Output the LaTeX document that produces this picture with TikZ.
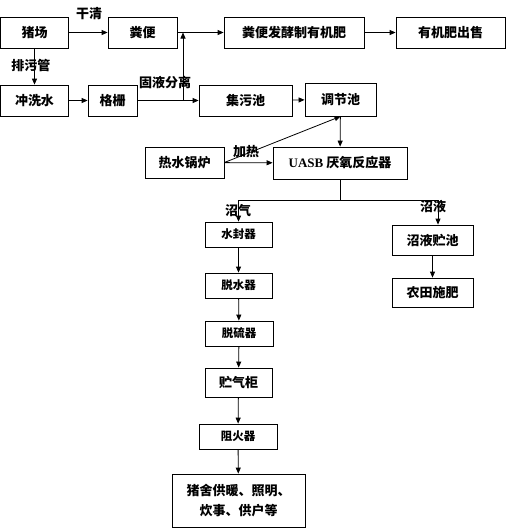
\documentclass[tikz,border=0pt]{standalone}
\usepackage{fontspec}
\setmainfont{Noto Sans CJK SC}
\newfontfamily\latinfont{Liberation Serif}
\usetikzlibrary{arrows.meta}
\begin{document}
\begin{tikzpicture}[
	x=1pt, y=-1pt,
	box/.style={ draw, line width=0.8pt, inner sep=0pt, align=center, font=\fontsize{13pt}{20pt}\selectfont\bfseries },
	boxs/.style={ box, font=\fontsize{11.5pt}{14pt}\selectfont\bfseries },
	lbl/.style={ inner sep=0pt, font=\fontsize{13pt}{14pt}\selectfont\bfseries },
	arr/.style={ draw, line width=0.8pt, -{Triangle[length=6pt,width=5pt]} },
	ln/.style={ draw, line width=0.8pt }
]
\useasboundingbox (0,0) rectangle (530,528);

\node at (34.5,32.5) (zc) [box,minimum width=68pt,minimum height=31pt] {猪场};
\node at (142.5,32.5) (fb) [box,minimum width=69pt,minimum height=31pt] {粪便};
\node at (294,32.5) (fj) [box,minimum width=140pt,minimum height=31pt] {粪便发酵制有机肥};
\node at (450.5,32.5) (cs) [box,minimum width=109pt,minimum height=31pt] {有机肥出售};

\node at (34.5,100.5) (cx) [box,minimum width=68pt,minimum height=31pt] {冲洗水};
\node at (112.5,100.5) (gs) [box,minimum width=49pt,minimum height=31pt] {格栅};
\node at (245.5,100.5) (jw) [box,minimum width=93pt,minimum height=31pt] {集污池};
\node at (340.5,99.5) (tj) [box,minimum width=71pt,minimum height=33pt] {调节池};

\node at (184.5,162.5) (gl) [box,minimum width=79pt,minimum height=31pt] {热水锅炉};
\node at (340,163) (uasb) [box,minimum width=134pt,minimum height=32pt] {{\latinfont UASB} 厌氧反应器};

\node at (238.5,234.5) (sf) [boxs,minimum width=67pt,minimum height=25pt] {水封器};
\node at (238.5,285.5) (ts) [boxs,minimum width=67pt,minimum height=25pt] {脱水器};
\node at (239,333.5) (tl) [boxs,minimum width=68pt,minimum height=25pt] {脱硫器};
\node at (238.5,382.5) (zq) [box,minimum width=67pt,minimum height=29pt] {贮气柜};
\node at (238,436.5) (zh) [boxs,minimum width=78pt,minimum height=25pt] {阻火器};
\node at (238.5,500.5) (zs) [box,minimum width=133pt,minimum height=53pt] {猪舍供暖、照明、\\炊事、供户等};

\node at (432.5,240) (zy) [box,minimum width=81pt,minimum height=30pt] {沼液贮池};
\node at (432.5,292.5) (nt) [box,minimum width=81pt,minimum height=29pt] {农田施肥};

\coordinate (j1) at (183,100.5);
\coordinate (j2) at (183,32.5);
\coordinate (b0) at (340,200);
\coordinate (bl) at (238.5,200);
\coordinate (br) at (438,200);

\draw[arr] (zc) to (fb);
\draw[arr] (zc) to (cx);
\draw[arr] (cx) to (gs);
\draw[arr] (gs) to (jw);
\draw[arr] (j1) to (j2);
\draw[arr] (fb) to (fj);
\draw[arr] (fj) to (cs);
\draw[arr] (jw) to (tj);
\draw[arr] (gl) to (uasb);
\draw[arr] (gl.east) to (tj.south);
\draw[arr] (tj) to (uasb);
\draw[ln] (uasb) to (b0);
\draw[ln] (bl) to (br);
\draw[arr] (bl) to (sf);
\draw[arr] (br) to (br |- zy.north);
\draw[arr] (sf) to (ts);
\draw[arr] (ts) to (tl);
\draw[arr] (tl) to (zq);
\draw[arr] (zq) to (zh);
\draw[arr] (zh) to (zs);
\draw[arr] (zy) to (nt);

\node at (89,14) (lgq) [lbl] {干清};
\node at (31,66) (lpw) [lbl] {排污管};
\node at (165,83) (lgy) [lbl] {固液分离};
\node at (246,152) (ljr) [lbl] {加热};
\node at (238,211) (lzq) [lbl] {沼气};
\node at (433,207) (lzy) [lbl] {沼液};

\end{tikzpicture}
\end{document}
